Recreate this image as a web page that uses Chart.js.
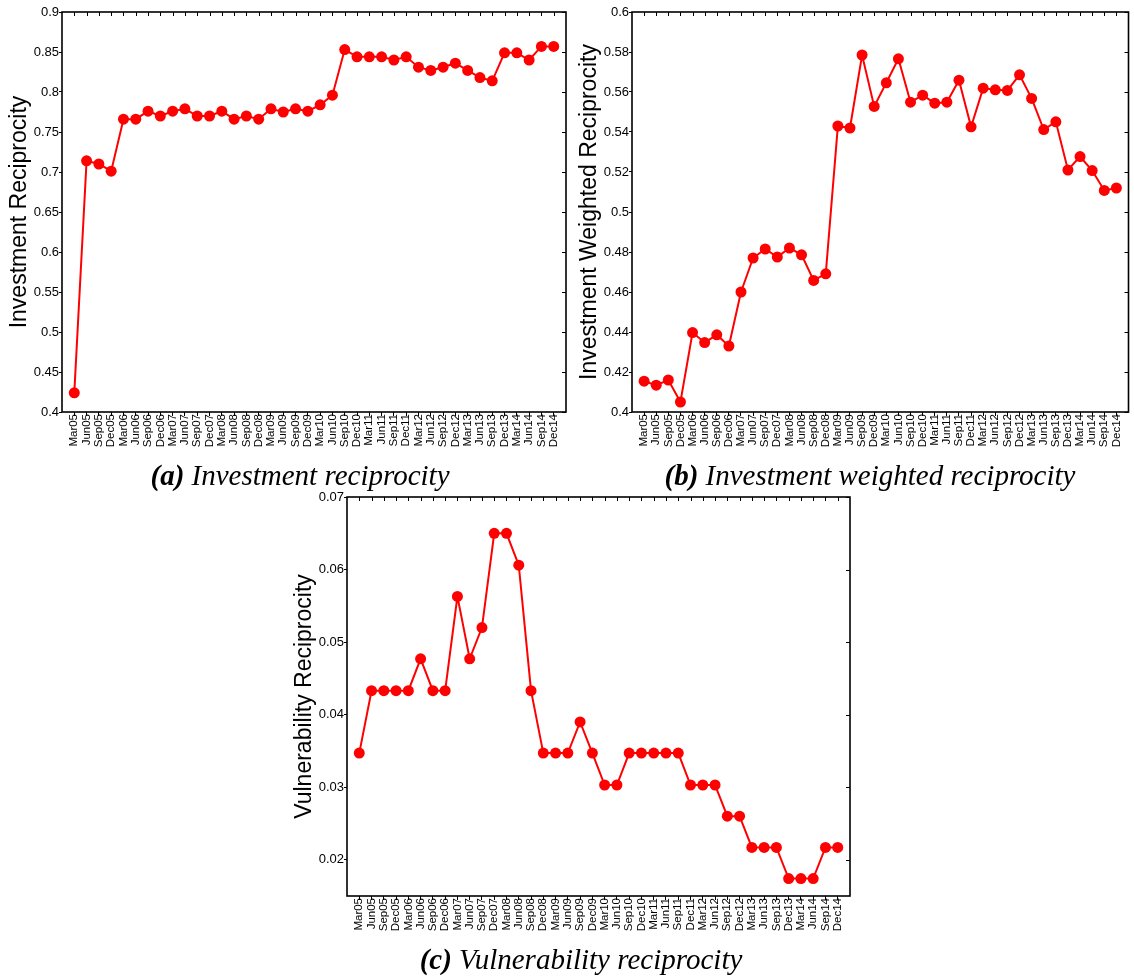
<!DOCTYPE html>
<html>
<head>
<meta charset="utf-8">
<script src="https://cdn.jsdelivr.net/npm/chart.js@4"></script>
<style>
  body { margin: 0; background: #fff; }
  #wrap { position: relative; width: 1134px; height: 977px; }
  canvas { position: absolute; }
  .cap {
    position: absolute; text-align: center; white-space: nowrap;
    font-family: "Liberation Serif", "Times New Roman", serif;
    font-style: italic; font-size: 29px; line-height: 29px; color: #000;
  }
  .cap b { font-weight: bold; }
</style>
</head>
<body>
<div id="wrap">
  <canvas id="chartA" width="575" height="460" style="left:0px;top:0px"></canvas>
  <canvas id="chartB" width="564" height="460" style="left:570px;top:0px"></canvas>
  <canvas id="chartC" width="574" height="459" style="left:285px;top:485px"></canvas>
  <div class="cap" style="left:0px;width:600px;top:461px"><b>(a)</b> Investment reciprocity</div>
  <div class="cap" style="left:570px;width:600px;top:461px"><b>(b)</b> Investment weighted reciprocity</div>
  <div class="cap" style="left:281px;width:600px;top:945px"><b>(c)</b> Vulnerability reciprocity</div>
</div>
<script>
const quarters = [
    'Mar05', 'Jun05', 'Sep05', 'Dec05', 'Mar06', 'Jun06', 'Sep06', 'Dec06',
    'Mar07', 'Jun07', 'Sep07', 'Dec07', 'Mar08', 'Jun08', 'Sep08', 'Dec08',
    'Mar09', 'Jun09', 'Sep09', 'Dec09', 'Mar10', 'Jun10', 'Sep10', 'Dec10',
    'Mar11', 'Jun11', 'Sep11', 'Dec11', 'Mar12', 'Jun12', 'Sep12', 'Dec12',
    'Mar13', 'Jun13', 'Sep13', 'Dec13', 'Mar14', 'Jun14', 'Sep14', 'Dec14'
];

const investmentReciprocity = [
    0.424, 0.714, 0.710, 0.701, 0.766, 0.766, 0.776, 0.770, 0.776, 0.779,
    0.770, 0.770, 0.776, 0.766, 0.770, 0.766, 0.779, 0.775, 0.779, 0.776,
    0.784, 0.796, 0.853, 0.844, 0.844, 0.844, 0.840, 0.844, 0.831, 0.827,
    0.831, 0.836, 0.827, 0.818, 0.814, 0.849, 0.849, 0.840, 0.857, 0.857
];

const weightedReciprocity = [
    0.4154, 0.4134, 0.4160, 0.4050, 0.4397, 0.4347, 0.4386, 0.4330, 0.4600, 0.4770,
    0.4815, 0.4775, 0.4820, 0.4786, 0.4658, 0.4691, 0.5430, 0.5420, 0.5785, 0.5528,
    0.5646, 0.5766, 0.5549, 0.5584, 0.5544, 0.5549, 0.5659, 0.5426, 0.5619, 0.5611,
    0.5608, 0.5686, 0.5568, 0.5412, 0.5451, 0.5210, 0.5277, 0.5207, 0.5108, 0.5120
];

const vulnerabilityReciprocity = [
    0.0347, 0.0433, 0.0433, 0.0433, 0.0433, 0.0477, 0.0433, 0.0433, 0.0563, 0.0477,
    0.0520, 0.0650, 0.0650, 0.0606, 0.0433, 0.0347, 0.0347, 0.0347, 0.0390, 0.0347,
    0.0303, 0.0303, 0.0347, 0.0347, 0.0347, 0.0347, 0.0347, 0.0303, 0.0303, 0.0303,
    0.0260, 0.0260, 0.0217, 0.0217, 0.0217, 0.0174, 0.0174, 0.0174, 0.0217, 0.0217
];

const yTicksA = [0.4, 0.45, 0.5, 0.55, 0.6, 0.65, 0.7, 0.75, 0.8, 0.85, 0.9];
const yTicksB = [0.4, 0.42, 0.44, 0.46, 0.48, 0.5, 0.52, 0.54, 0.56, 0.58, 0.6];
const yTicksC = [0.02, 0.03, 0.04, 0.05, 0.06, 0.07];

Chart.defaults.font.family = '"Liberation Sans", Arial, sans-serif';
Chart.defaults.color = '#000';

// matlab style box: inward ticks on the top and right edges
const boxPlugin = {
    id: 'box',
    afterDraw(chart) {
        const { ctx, chartArea: a, scales: { x, y } } = chart;
        ctx.save();
        ctx.strokeStyle = '#000';
        ctx.lineWidth = 1;
        ctx.beginPath();
        x.ticks.forEach(t => {
            const px = Math.round(x.getPixelForValue(t.value)) + 0.5;
            ctx.moveTo(px, a.top);
            ctx.lineTo(px, a.top + 4);
        });
        y.ticks.forEach(t => {
            const py = Math.round(y.getPixelForValue(t.value)) + 0.5;
            ctx.moveTo(a.right, py);
            ctx.lineTo(a.right - 4, py);
        });
        ctx.stroke();
        ctx.lineWidth = 1.6;
        ctx.strokeRect(a.left, a.top, a.right - a.left, a.bottom - a.top);
        ctx.restore();
    }
};

function makeChart(id, values, yTicks, yMin, yMax, title, padRight) {
    const ctx = document.getElementById(id).getContext('2d');
    return new Chart(ctx, {
        type: 'line',
        data: {
            datasets: [{
                data: values.map((v, i) => ({ x: i + 1, y: v })),
                borderColor: '#ff0000',
                backgroundColor: '#ff0000',
                borderWidth: 2,
                pointRadius: 5.5,
                pointBorderWidth: 0,
                pointBackgroundColor: '#ff0000',
                tension: 0,
                clip: false
            }]
        },
        options: {
            responsive: false,
            animation: false,
            layout: { padding: { top: 12, right: padRight, left: 0, bottom: 0 } },
            plugins: { legend: { display: false }, tooltip: { enabled: false } },
            scales: {
                x: {
                    type: 'linear',
                    min: 0,
                    max: quarters.length + 1,
                    afterBuildTicks: s => { s.ticks = quarters.map((q, i) => ({ value: i + 1 })); },
                    afterFit: s => { s.height = 48; },
                    border: { display: false },
                    grid: { drawOnChartArea: false, tickLength: 4, color: '#000' },
                    ticks: {
                        autoSkip: false,
                        minRotation: 90,
                        maxRotation: 90,
                        padding: -2,
                        font: { size: 11.5 },
                        callback: v => quarters[v - 1]
                    }
                },
                y: {
                    min: yMin,
                    max: yMax,
                    afterBuildTicks: s => { s.ticks = yTicks.map(v => ({ value: v })); },
                    afterFit: s => { s.width = 62; },
                    border: { display: false },
                    grid: { drawOnChartArea: false, tickLength: 3, color: '#000' },
                    ticks: {
                        padding: 0,
                        font: { size: 13 },
                        callback: v => String(+v.toFixed(3))
                    },
                    title: {
                        display: true,
                        text: title,
                        font: { size: 23 },
                        padding: { top: 6, bottom: 0 }
                    }
                }
            }
        },
        plugins: [boxPlugin]
    });
}

makeChart('chartA', investmentReciprocity, yTicksA, 0.4, 0.9, 'Investment Reciprocity', 9);
makeChart('chartB', weightedReciprocity, yTicksB, 0.4, 0.6, 'Investment Weighted Reciprocity', 1);
makeChart('chartC', vulnerabilityReciprocity, yTicksC, 0.015, 0.07, 'Vulnerability Reciprocity', 9);
</script>
</body>
</html>
